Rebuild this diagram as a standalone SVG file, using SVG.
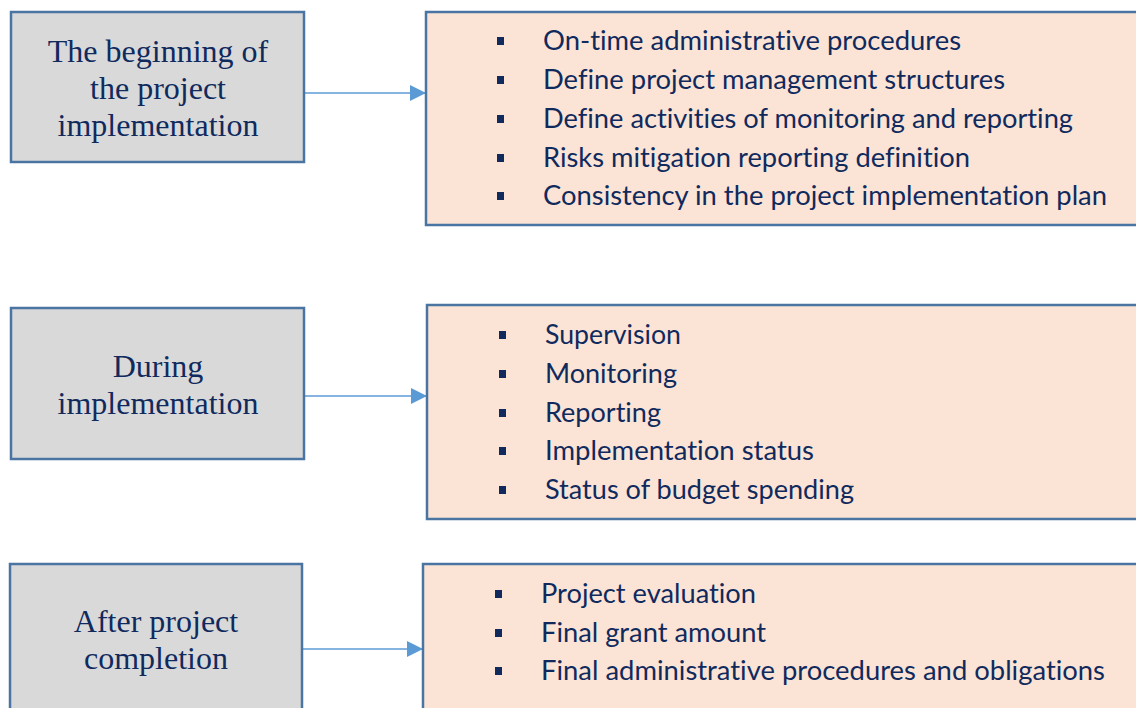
<svg xmlns="http://www.w3.org/2000/svg" width="1136" height="708" viewBox="0 0 1136 708">
  <defs>
    <marker id="arrow" viewBox="0 0 10 10" refX="10" refY="5" markerWidth="16" markerHeight="16" markerUnits="userSpaceOnUse" orient="auto">
      <path d="M0,0 L10,5 L0,10 z" fill="#5b9bd5"/>
    </marker>
    <style>
      .stage { fill: #d9d9d9; stroke: #4a74a2; stroke-width: 2.5; }
      .items { fill: #fbe4d5; stroke: #4a74a2; stroke-width: 2.5; }
      .stage-text { font-family: "Liberation Serif", "Times New Roman", serif; font-size: 32px; fill: #102a5e; text-anchor: middle; }
      .item-text { font-family: Lato, "Liberation Sans", sans-serif; font-size: 26px; fill: #102a5e; font-variant-ligatures: none; }
      .bullet { fill: #102a5e; }
      .link { stroke: #5b9bd5; stroke-width: 1.5; fill: none; marker-end: url(#arrow); }
    </style>
  </defs>
  <rect width="1136" height="708" fill="#ffffff"/>

  <!-- connectors -->
  <g id="connectors">
    <line class="link" x1="304" y1="93" x2="426" y2="93"/>
    <line class="link" x1="304" y1="396" x2="427" y2="396"/>
    <line class="link" x1="302" y1="649" x2="423" y2="649"/>
  </g>

  <!-- stage 1 -->
  <g id="stage-beginning">
    <rect class="stage" x="11" y="12" width="293" height="150"/>
    <text class="stage-text" x="158" y="62">The beginning of</text>
    <text class="stage-text" x="158" y="99">the project</text>
    <text class="stage-text" x="158" y="136">implementation</text>
  </g>
  <g id="items-beginning">
    <rect class="items" x="426" y="12" width="720" height="213"/>
    <rect class="bullet" x="497" y="37" width="7" height="8"/>
    <rect class="bullet" x="497" y="76" width="7" height="8"/>
    <rect class="bullet" x="497" y="115" width="7" height="8"/>
    <rect class="bullet" x="497" y="154" width="7" height="8"/>
    <rect class="bullet" x="497" y="192" width="7" height="8"/>
    <text class="item-text" x="543" y="50" textLength="418" lengthAdjust="spacingAndGlyphs">On-time administrative procedures</text>
    <text class="item-text" x="543" y="89" textLength="462" lengthAdjust="spacingAndGlyphs">Define project management structures</text>
    <text class="item-text" x="543" y="128" textLength="530" lengthAdjust="spacingAndGlyphs">Define activities of monitoring and reporting</text>
    <text class="item-text" x="543" y="167" textLength="427" lengthAdjust="spacingAndGlyphs">Risks mitigation reporting definition</text>
    <text class="item-text" x="543" y="205" textLength="564" lengthAdjust="spacingAndGlyphs">Consistency in the project implementation plan</text>
  </g>

  <!-- stage 2 -->
  <g id="stage-during">
    <rect class="stage" x="11" y="308" width="293" height="151"/>
    <text class="stage-text" x="158" y="377">During</text>
    <text class="stage-text" x="158" y="414">implementation</text>
  </g>
  <g id="items-during">
    <rect class="items" x="427" y="305" width="720" height="214"/>
    <rect class="bullet" x="499" y="331" width="7" height="8"/>
    <rect class="bullet" x="499" y="370" width="7" height="8"/>
    <rect class="bullet" x="499" y="409" width="7" height="8"/>
    <rect class="bullet" x="499" y="447" width="7" height="8"/>
    <rect class="bullet" x="499" y="486" width="7" height="8"/>
    <text class="item-text" x="545" y="344" textLength="136" lengthAdjust="spacingAndGlyphs">Supervision</text>
    <text class="item-text" x="545" y="383" textLength="132" lengthAdjust="spacingAndGlyphs">Monitoring</text>
    <text class="item-text" x="545" y="422" textLength="116" lengthAdjust="spacingAndGlyphs">Reporting</text>
    <text class="item-text" x="545" y="460" textLength="269" lengthAdjust="spacingAndGlyphs">Implementation status</text>
    <text class="item-text" x="545" y="499" textLength="309" lengthAdjust="spacingAndGlyphs">Status of budget spending</text>
  </g>

  <!-- stage 3 -->
  <g id="stage-after">
    <rect class="stage" x="10" y="564" width="292" height="160"/>
    <text class="stage-text" x="156" y="632">After project</text>
    <text class="stage-text" x="156" y="669">completion</text>
  </g>
  <g id="items-after">
    <rect class="items" x="423" y="564" width="724" height="160"/>
    <rect class="bullet" x="495" y="590" width="7" height="8"/>
    <rect class="bullet" x="495" y="629" width="7" height="8"/>
    <rect class="bullet" x="495" y="667" width="7" height="8"/>
    <text class="item-text" x="541" y="603" textLength="215" lengthAdjust="spacingAndGlyphs">Project evaluation</text>
    <text class="item-text" x="541" y="642" textLength="225" lengthAdjust="spacingAndGlyphs">Final grant amount</text>
    <text class="item-text" x="541" y="680" textLength="564" lengthAdjust="spacingAndGlyphs">Final administrative procedures and obligations</text>
  </g>
</svg>
